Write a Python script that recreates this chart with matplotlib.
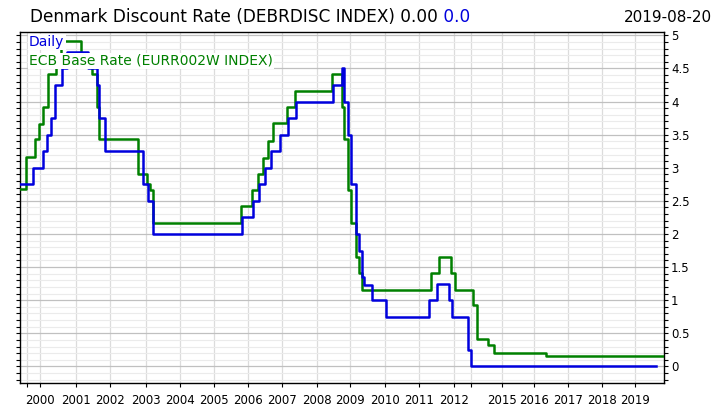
"""
Denmark discount rate vs ECB base rate, step chart.
"""

import matplotlib
matplotlib.use("Agg")
import matplotlib.pyplot as plt
from matplotlib.ticker import MultipleLocator, FixedLocator, FixedFormatter, FuncFormatter
import numpy as np


# Danish discount rate (DEBRDISC) - change dates (decimal years) and rate
daily_dates = [1998.46, 1999.48, 2000.09, 2000.19, 2000.30, 2000.42, 2000.60,
               2000.75, 2001.36, 2001.63, 2001.69, 2001.85, 2002.93, 2003.06,
               2003.21, 2005.82, 2006.15, 2006.32, 2006.50, 2006.68, 2006.94,
               2007.17, 2007.40, 2008.48, 2008.75, 2008.83, 2008.93, 2008.95,
               2009.03, 2009.17, 2009.25, 2009.34, 2009.40, 2009.62, 2010.02,
               2011.29, 2011.52, 2011.86, 2011.93, 2012.81, 2012.98, 2019.64]
daily_rates = [2.75, 3.00, 3.25, 3.50, 3.75, 4.25, 4.50,
               4.75, 4.50, 4.25, 3.75, 3.25, 2.75, 2.50,
               2.00, 2.25, 2.50, 2.75, 3.00, 3.25, 3.50,
               3.75, 4.00, 4.25, 4.50, 4.00, 3.88, 3.50,
               2.75, 2.00, 1.75, 1.35, 1.23, 1.00, 0.75,
               1.00, 1.25, 1.00, 0.75, 0.25, 0.00, 0.00]

# ECB base rate (EURR002W)
ecb_dates = [1998.46, 1998.92, 1999.62, 1999.95, 2000.09, 2000.23, 2000.44,
             2000.58, 2001.15, 2001.46, 2001.61, 2001.68, 2002.77, 2003.02,
             2003.12, 2003.21, 2005.79, 2006.12, 2006.29, 2006.44, 2006.59,
             2006.74, 2007.13, 2007.37, 2008.45, 2008.75, 2008.83, 2008.93,
             2009.03, 2009.17, 2009.26, 2009.34, 2011.33, 2011.58, 2011.91,
             2012.06, 2013.15, 2013.37, 2014.12, 2014.48, 2016.35, 2019.88]
ecb_rates = [2.68, 3.17, 3.44, 3.66, 3.91, 4.42, 4.66,
             4.92, 4.66, 4.42, 3.92, 3.43, 2.90, 2.75,
             2.66, 2.17, 2.42, 2.66, 2.90, 3.15, 3.40,
             3.67, 3.92, 4.16, 4.41, 3.92, 3.43, 2.66,
             2.17, 1.66, 1.41, 1.16, 1.41, 1.66, 1.41,
             1.16, 0.93, 0.41, 0.32, 0.21, 0.16, 0.16]

year_ticks = [1999, 2000, 2001, 2002, 2003, 2004, 2005, 2006, 2007, 2008,
              2009, 2010, 2011, 2012, 2013, 2015, 2016, 2017, 2018, 2019]
year_labels = ["", "2000", "2001", "2002", "2003", "2004", "2005", "2006",
               "2007", "2008", "2009", "2010", "2011", "2012", "",
               "2015", "2016", "2017", "2018", "2019"]

title_text = "Denmark Discount Rate (DEBRDISC INDEX) 0.00"
title_last = "0.0"
date_text = "2019-08-20"
daily_name = "Daily"
ecb_name = "ECB Base Rate (EURR002W INDEX)"

# the time axis of the original chart is not linear (some years squeezed),
# so years are mapped on a piecewise linear axis
AXIS_YEARS = [1998, 1999, 2000, 2001, 2002, 2003, 2004, 2005, 2006, 2007,
              2008, 2009, 2010, 2011, 2012, 2013, 2015, 2016, 2017, 2018,
              2019, 2020]
AXIS_POS = [14, 27, 40, 76, 110, 146, 180, 214, 248, 282,
            317, 350, 385, 419, 454, 471, 502, 534, 568, 602,
            635, 668]


def forward(x):
    return np.interp(x, AXIS_YEARS, AXIS_POS)


def inverse(p):
    return np.interp(p, AXIS_POS, AXIS_YEARS)


BLUE = "#0000dd"
GREEN = "#008000"


def main():
    fig = plt.figure(figsize=(7.2, 4.12), dpi=100)
    ax = fig.add_axes([20 / 720, 29 / 412, 644 / 720, 351 / 412])

    ax.set_xscale("function", functions=(forward, inverse))

    ax.step(ecb_dates, ecb_rates, where="post", color=GREEN, lw=1.8, zorder=3)
    ax.step(daily_dates, daily_rates, where="post", color=BLUE, lw=1.8, zorder=4)

    ax.set_xlim(1998.46, 2019.88)
    ax.set_ylim(-0.25, 5.05)

    # y axis on the right
    ax.yaxis.tick_right()
    ax.yaxis.set_major_locator(MultipleLocator(0.5))
    ax.yaxis.set_minor_locator(MultipleLocator(0.1))
    ax.yaxis.set_major_formatter(FuncFormatter(lambda v, p: "{:g}".format(round(v, 2))))
    ax.tick_params(axis="y", which="both", left=True, right=True, direction="out",
                   length=3, width=0.8, labelsize=8.5, pad=2)

    ax.xaxis.set_major_locator(FixedLocator(year_ticks))
    ax.xaxis.set_major_formatter(FixedFormatter(year_labels))
    ax.xaxis.set_minor_locator(FixedLocator([]))
    ax.tick_params(axis="x", which="both", direction="out", length=3, width=0.8,
                   labelsize=8.5, pad=5)

    ax.grid(True, which="major", axis="y", color="#c0c0c0", lw=0.9, zorder=0)
    ax.grid(True, which="minor", axis="y", color="#ebebeb", lw=0.8, zorder=0)
    ax.grid(True, which="major", axis="x", color="#dcdcdc", lw=0.9, zorder=0)
    ax.set_axisbelow(True)

    for sp in ax.spines.values():
        sp.set_color("black")
        sp.set_linewidth(1.0)

    # legend as text labels with white background
    box = dict(facecolor="white", edgecolor="none", pad=1.0)
    ax.text(29 / 720, 1 - 46 / 412, daily_name, transform=fig.transFigure,
            color=BLUE, fontsize=10, va="baseline", ha="left", bbox=box, zorder=6)
    ax.text(29 / 720, 1 - 65 / 412, ecb_name, transform=fig.transFigure,
            color=GREEN, fontsize=10, va="baseline", ha="left", bbox=box, zorder=6)

    # title with the last value in blue
    t1 = fig.text(30 / 720, 1 - 21.5 / 412, title_text, fontsize=12.2,
                  color="black", va="baseline", ha="left")
    ax.annotate(" " + title_last, xy=(1, 0), xycoords=t1, fontsize=12.2,
                color=BLUE, va="bottom", ha="left", annotation_clip=False)
    fig.text(712 / 720, 1 - 21.5 / 412, date_text, fontsize=11,
             color="black", va="baseline", ha="right")

    fig.savefig("out.png", dpi=100)


if __name__ == "__main__":
    main()
